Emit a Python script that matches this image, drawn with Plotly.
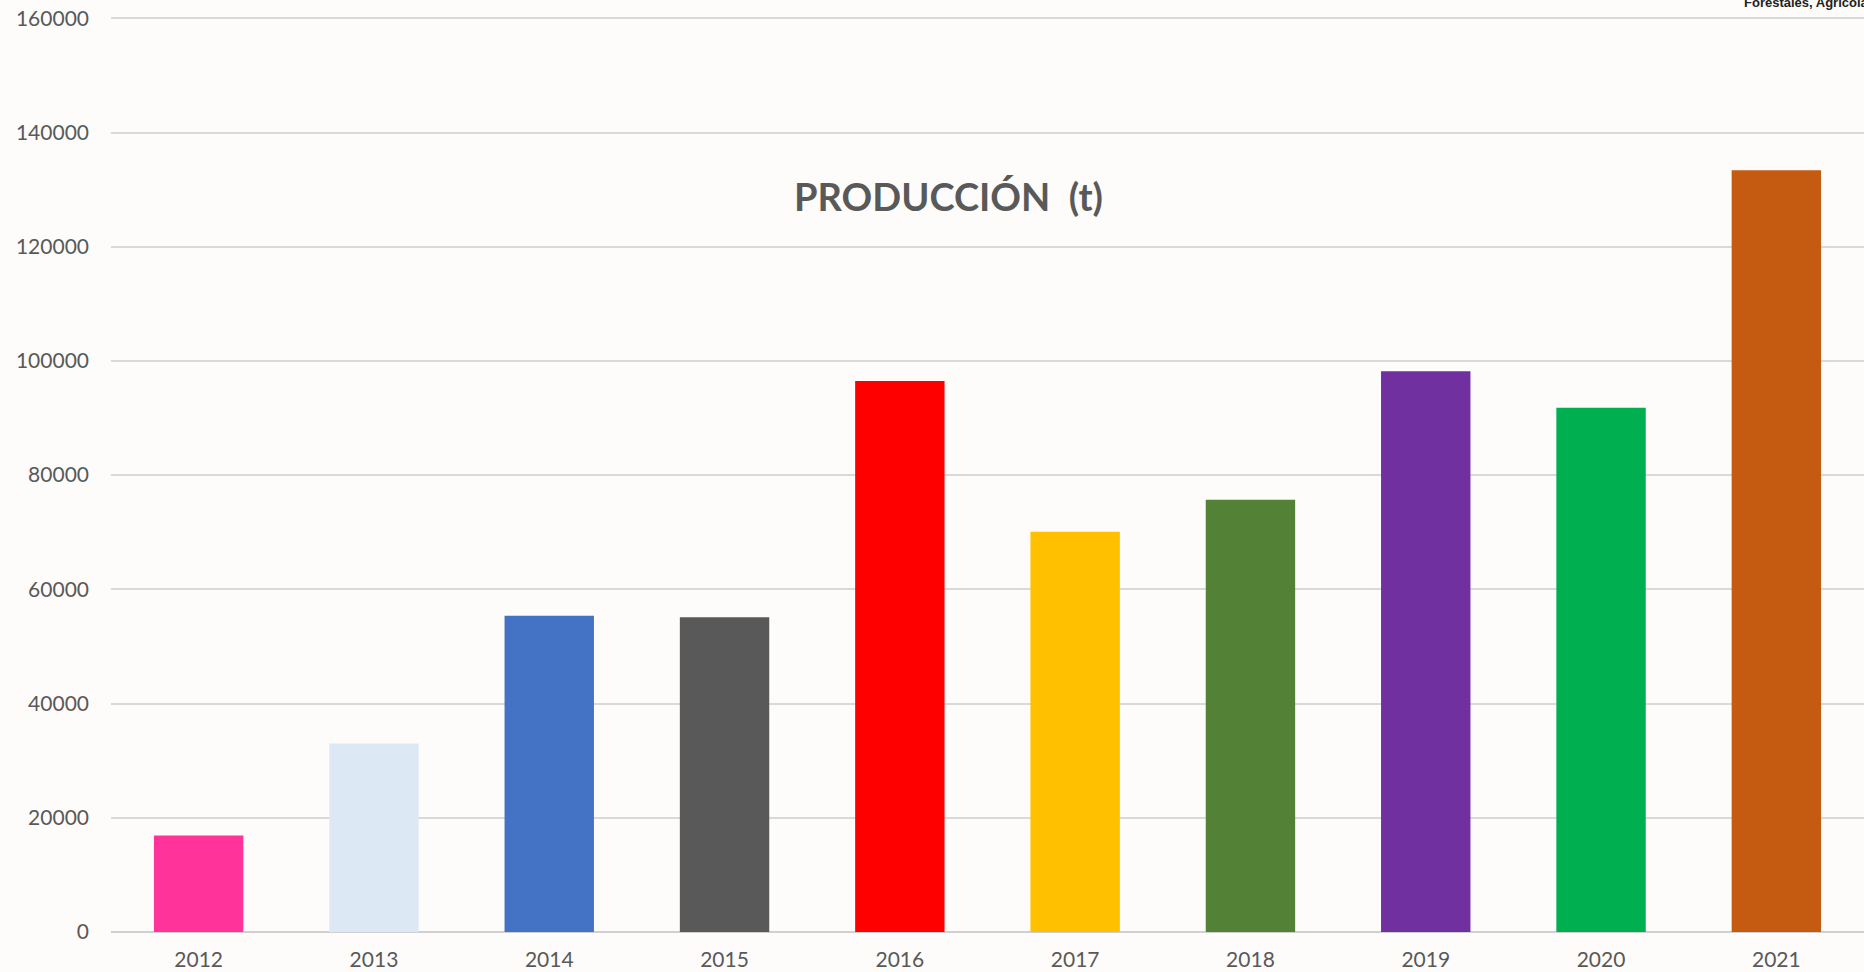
import plotly.graph_objects as go

years = ["2012", "2013", "2014", "2015", "2016", "2017", "2018", "2019", "2020", "2021"]
production = [16900, 33000, 55400, 55100, 96500, 70100, 75700, 98200, 91800, 133400]
bar_colors = ["#FF3399", "#DDE8F5", "#4472C4", "#595959", "#FF0000",
              "#FFC000", "#538135", "#7030A0", "#00B050", "#C55A11"]
y_ticks = [0, 20000, 40000, 60000, 80000, 100000, 120000, 140000, 160000]

fig = go.Figure()
fig.add_trace(go.Bar(
    x=years, y=production,
    marker=dict(color=bar_colors, line=dict(width=0)),
    width=0.51,
    hoverinfo="x+y",
))

fig.update_layout(
    width=1864, height=972,
    margin=dict(l=111, r=0, t=15.5, b=40, pad=0, autoexpand=False),
    paper_bgcolor="#FDFCFA",
    plot_bgcolor="rgba(0,0,0,0)",
    showlegend=False,
    font=dict(family="Lato", color="#595959", size=21),
    annotations=[
        dict(text="<b>PRODUCCIÓN  (t)</b>", xref="paper", yref="paper",
             x=0.4775, y=0.803, xanchor="center", yanchor="middle",
             showarrow=False, font=dict(family="Lato", size=38, color="#595959")),
        dict(text="<b>Forestales, Agrícolas</b>", xref="paper", yref="paper",
             x=0.9304, y=1.0049, xanchor="left", yanchor="bottom",
             showarrow=False, font=dict(family="Liberation Sans", size=13, color="#222222")),
    ],
)
fig.update_xaxes(
    type="category", showgrid=False, showline=False, zeroline=False,
    ticks="", ticklabelstandoff=13, automargin=False,
    tickfont=dict(family="Lato", size=21, color="#595959"),
)
fig.update_yaxes(
    range=[0, 160400], tickvals=y_ticks, ticktext=[str(v) for v in y_ticks],
    showgrid=True, gridcolor="#D9D9D9", gridwidth=1.5,
    zeroline=True, zerolinecolor="#D0D0D0", zerolinewidth=2,
    showline=False, ticks="", ticklabelstandoff=21, ticklabeloverflow="allow",
    automargin=False,
    tickfont=dict(family="Lato", size=21, color="#595959"),
)

fig.write_html("out.html", config={"displayModeBar": False},
               post_script="document.body.style.margin='0';")
